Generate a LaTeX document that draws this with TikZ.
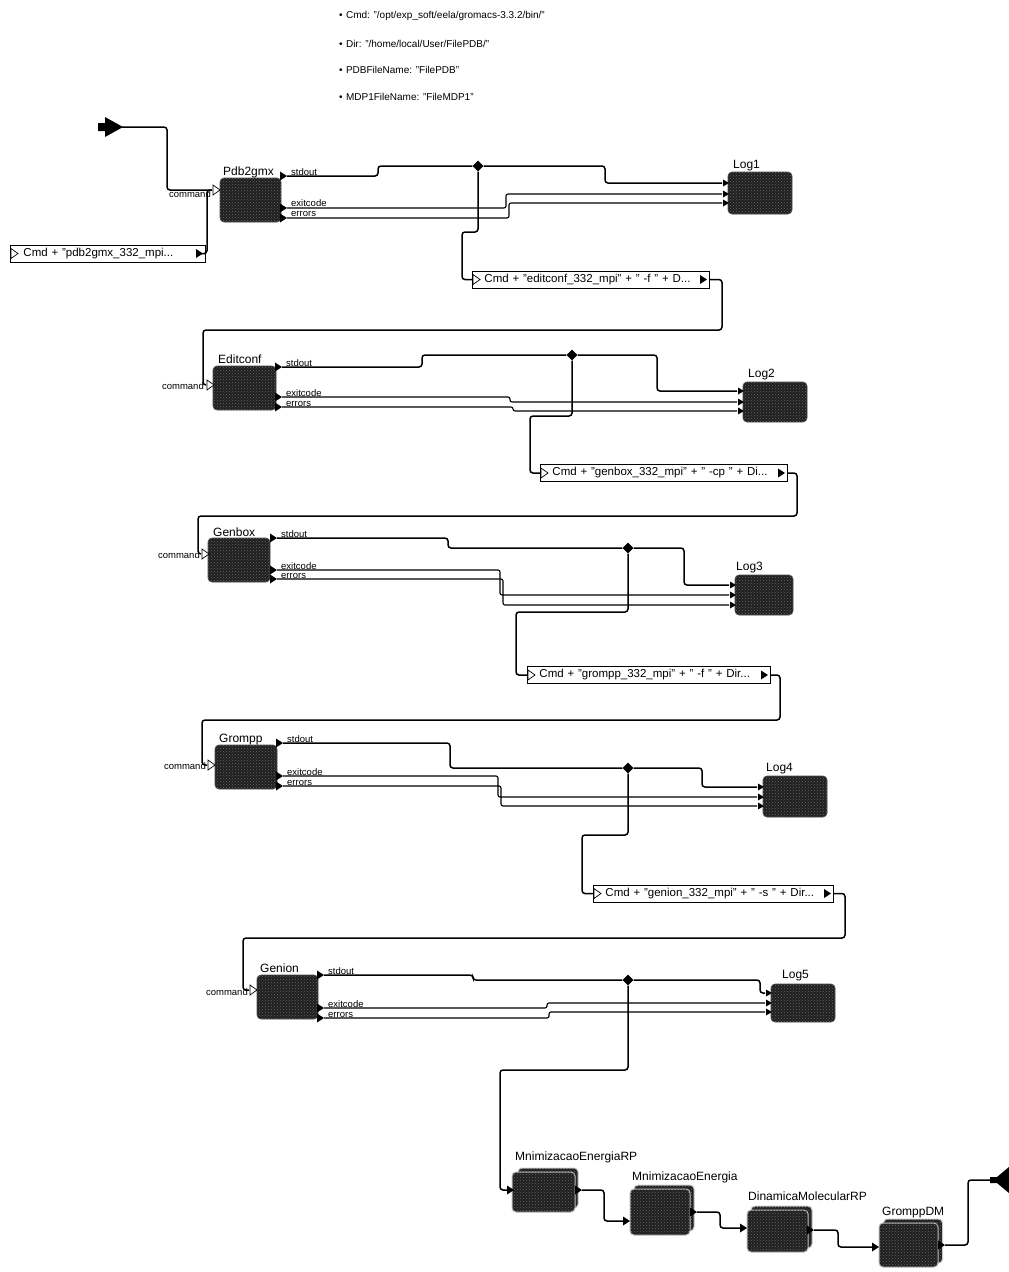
\documentclass[tikz,border=0pt]{standalone}
\usepackage{fontspec}
\setmainfont{Liberation Sans}
\usetikzlibrary{shapes.geometric,patterns}
\tikzset{
  wire/.style={line width=1.5pt, rounded corners=3pt},
  thinwire/.style={line width=1.1pt, rounded corners=2pt},
  proc/.style={draw=black!70, line width=0.6pt, fill=black!88, rounded corners=4pt, inner sep=0pt,
     postaction={pattern=crosshatch dots, pattern color=black!60}},
  backproc/.style={proc, draw=white!80!black, line width=1pt},
  frontproc/.style={proc, draw=white!75!black, line width=1pt},
  plabel/.style={font=\fontsize{12}{13}\selectfont, inner sep=0pt, anchor=base west},
  portlabel/.style={font=\fontsize{9.5}{10}\selectfont, inner sep=0pt},
  toplabel/.style={font=\fontsize{10}{11}\selectfont, inner sep=0pt, anchor=west},
  cmdbox/.style={draw, fill=white, line width=0.9pt, inner xsep=0pt, inner ysep=0pt, minimum height=17pt, align=left, anchor=west, font=\fontsize{11.5}{12}\selectfont},
  junction/.style={diamond, fill=black, inner sep=0pt, minimum size=11pt},
  outp/.pic={\fill[black] (-7,-4.5) -- (0,0) -- (-7,4.5) -- cycle;},
  inp/.pic={\filldraw[fill=white, draw=black, line width=0.7pt] (-7,-5) -- (0,0) -- (-7,5) -- cycle;},
  logp/.pic={\fill[black] (-6,-3.5) -- (0,0) -- (-6,3.5) -- cycle;},
}
\begin{document}
\begin{tikzpicture}[x=1pt,y=-1pt]
\useasboundingbox (0,0) rectangle (1009,1272);
\fill[white] (0,0) rectangle (1009,1272);

% parameters
\node[toplabel] (t1) at (339,16) {\textbullet\,\,Cmd: "/opt/exp\_soft/eela/gromacs-3.3.2/bin/"};
\node[toplabel] (t2) at (339,44) {\textbullet\,\,Dir: "/home/local/User/FilePDB/"};
\node[toplabel] (t3) at (339,70) {\textbullet\,\,PDBFileName: "FilePDB"};
\node[toplabel] (t4) at (339,97) {\textbullet\,\,MDP1FileName: "FileMDP1"};

% start arrow
\fill (98,123) -- (105,123) -- (105,117) -- (123,127) -- (105,137) -- (105,131) -- (98,131) -- cycle;
\coordinate (st) at (122,127);

% ===== Stage 1: Pdb2gmx
\node[proc, minimum width=61pt, minimum height=44pt] (pdb) at (250.5,200) {};
\node[plabel] (pdbl) at (223,175) {Pdb2gmx};
\coordinate (p1c) at (212,190); \pic at (220,190) {inp};
\node[portlabel, anchor=base east] (p1cl) at (211,197) {command};
\coordinate (p1so) at (287,176); \pic at (287,176) {outp};
\coordinate (p1ec) at (287,208); \pic at (287,208) {outp};
\coordinate (p1er) at (287,218); \pic at (287,218) {outp};
\node[portlabel, anchor=base west] (p1sol) at (291,175) {stdout};
\node[portlabel, anchor=base west] (p1ecl) at (291,206) {exitcode};
\node[portlabel, anchor=base west] (p1erl) at (291,216) {errors};
\node[proc, minimum width=64pt, minimum height=42pt] (log1) at (760,193) {};
\node[plabel] (log1l) at (733,168) {Log1};
\coordinate (l1a) at (722,183); \pic at (729,183) {logp};
\coordinate (l1b) at (722,194); \pic at (729,194) {logp};
\coordinate (l1c) at (722,203); \pic at (729,203) {logp};
\node[junction] (d1) at (478,166) {};
\node[cmdbox, text width=195pt] (c1) at (10,253.5) {\mbox{\hspace*{13pt}Cmd + "pdb2gmx\_332\_mpi...}};
\pic at (18,253.5) {inp}; \pic at (203,253.5) {outp};

\draw[wire] (st) -| (167,190) -- (p1c);
\draw[wire] (c1.east) -| ([xshift=-5pt]p1c) -- (p1c);
\draw[wire] (p1so) -| (378,166) -- (d1);
\draw[wire] (d1) -| (605,183) -- (l1a);
\draw[thinwire] (p1ec) -| (506,194) -- (l1b);
\draw[thinwire] (p1er) -| (509,203) -- (l1c);

\node[cmdbox, text width=237pt] (c2) at (472,279.5) {\mbox{\hspace*{12pt}Cmd + "editconf\_332\_mpi" + " -f " + D...}};
\pic at (480,279.5) {inp}; \pic at (707,279.5) {outp};
\draw[wire] (d1) |- (462,232) |- (c2.west);

% ===== Stage 2: Editconf
\node[proc, minimum width=63pt, minimum height=44pt] (edc) at (244.5,388) {};
\node[plabel] (edcl) at (218,363) {Editconf};
\coordinate (p2c) at (206,385); \pic at (214,385) {inp};
\node[portlabel, anchor=base east] (p2cl) at (204,389) {command};
\coordinate (p2so) at (282,367); \pic at (282,367) {outp};
\coordinate (p2ec) at (282,397); \pic at (282,397) {outp};
\coordinate (p2er) at (282,407); \pic at (282,407) {outp};
\node[portlabel, anchor=base west] (p2sol) at (286,366) {stdout};
\node[portlabel, anchor=base west] (p2ecl) at (286,396) {exitcode};
\node[portlabel, anchor=base west] (p2erl) at (286,406) {errors};
\node[proc, minimum width=64pt, minimum height=40pt] (log2) at (775,402) {};
\node[plabel] (log2l) at (748,377) {Log2};
\coordinate (l2a) at (737,391); \pic at (744,391) {logp};
\coordinate (l2b) at (737,402); \pic at (744,402) {logp};
\coordinate (l2c) at (737,411); \pic at (744,411) {logp};
\node[junction] (d2) at (572,355) {};
\draw[wire] (c2.east) -| (722,330) -| (203,385) -- (p2c);
\draw[wire] (p2so) -| (422,355) -- (d2);
\draw[wire] (d2) -| (657,391) -- (l2a);
\draw[thinwire] (p2ec) -| (510,402) -- (l2b);
\draw[thinwire] (p2er) -| (513,411) -- (l2c);

\node[cmdbox, text width=247pt] (c3) at (540,473) {\mbox{\hspace*{12pt}Cmd + "genbox\_332\_mpi" + " -cp " + Di...}};
\pic at (548,473) {inp}; \pic at (785,473) {outp};
\draw[wire] (d2) |- (530,416) |- (c3.west);

% ===== Stage 3: Genbox
\node[proc, minimum width=62pt, minimum height=44pt] (gbx) at (239,560) {};
\node[plabel] (gbxl) at (213,536) {Genbox};
\coordinate (p3c) at (201,554); \pic at (209,554) {inp};
\node[portlabel, anchor=base east] (p3cl) at (200,558) {command};
\coordinate (p3so) at (277,538); \pic at (277,538) {outp};
\coordinate (p3ec) at (277,570); \pic at (277,570) {outp};
\coordinate (p3er) at (277,579); \pic at (277,579) {outp};
\node[portlabel, anchor=base west] (p3sol) at (281,537) {stdout};
\node[portlabel, anchor=base west] (p3ecl) at (281,569) {exitcode};
\node[portlabel, anchor=base west] (p3erl) at (281,578) {errors};
\node[proc, minimum width=58pt, minimum height=40pt] (log3) at (764,595) {};
\node[plabel] (log3l) at (736,570) {Log3};
\coordinate (l3a) at (729,585); \pic at (736,585) {logp};
\coordinate (l3b) at (729,595); \pic at (736,595) {logp};
\coordinate (l3c) at (729,605); \pic at (736,605) {logp};
\node[junction] (d3) at (628,548) {};
\draw[wire] (c3.east) -| (797,516) -| (198,554) -- (p3c);
\draw[wire] (p3so) -| (448,548) -- (d3);
\draw[wire] (d3) -| (684,585) -- (l3a);
\draw[thinwire] (p3ec) -| (500,595) -- (l3b);
\draw[thinwire] (p3er) -| (503,605) -- (l3c);

\node[cmdbox, text width=243pt] (c4) at (527,675) {\mbox{\hspace*{12pt}Cmd + "grompp\_332\_mpi" + " -f " + Dir...}};
\pic at (535,675) {inp}; \pic at (768,675) {outp};
\draw[wire] (d3) |- (516,612) |- (c4.west);

% ===== Stage 4: Grompp
\node[proc, minimum width=62pt, minimum height=44pt] (grp) at (246,767) {};
\node[plabel] (grpl) at (219,742) {Grompp};
\coordinate (p4c) at (207,765); \pic at (215,765) {inp};
\node[portlabel, anchor=base east] (p4cl) at (206,769) {command};
\coordinate (p4so) at (283,743); \pic at (283,743) {outp};
\coordinate (p4ec) at (283,776); \pic at (283,776) {outp};
\coordinate (p4er) at (283,786); \pic at (283,786) {outp};
\node[portlabel, anchor=base west] (p4sol) at (287,742) {stdout};
\node[portlabel, anchor=base west] (p4ecl) at (287,775) {exitcode};
\node[portlabel, anchor=base west] (p4erl) at (287,785) {errors};
\node[proc, minimum width=64pt, minimum height=41pt] (log4) at (795,796.5) {};
\node[plabel] (log4l) at (766,771) {Log4};
\coordinate (l4a) at (757,787); \pic at (764,787) {logp};
\coordinate (l4b) at (757,797); \pic at (764,797) {logp};
\coordinate (l4c) at (757,806); \pic at (764,806) {logp};
\node[junction] (d4) at (628,768) {};
\draw[wire] (c4.east) -| (780,720) -| (202,765) -- (p4c);
\draw[wire] (p4so) -| (450,768) -- (d4);
\draw[wire] (d4) -| (702,787) -- (l4a);
\draw[thinwire] (p4ec) -| (498,797) -- (l4b);
\draw[thinwire] (p4er) -| (501,806) -- (l4c);

\node[cmdbox, text width=240pt] (c5) at (593,893.5) {\mbox{\hspace*{12pt}Cmd + "genion\_332\_mpi" + " -s " + Dir...}};
\pic at (601,893.5) {inp}; \pic at (831,893.5) {outp};
\draw[wire] (d4) |- (582,835) |- (c5.west);

% ===== Stage 5: Genion
\node[proc, minimum width=61pt, minimum height=44pt] (gen) at (287.5,997) {};
\node[plabel] (genl) at (260,972) {Genion};
\coordinate (p5c) at (249,990); \pic at (257,990) {inp};
\node[portlabel, anchor=base east] (p5cl) at (248,995) {command};
\coordinate (p5so) at (324,975); \pic at (324,975) {outp};
\coordinate (p5ec) at (324,1008); \pic at (324,1008) {outp};
\coordinate (p5er) at (324,1018); \pic at (324,1018) {outp};
\node[portlabel, anchor=base west] (p5sol) at (328,974) {stdout};
\node[portlabel, anchor=base west] (p5ecl) at (328,1007) {exitcode};
\node[portlabel, anchor=base west] (p5erl) at (328,1017) {errors};
\node[proc, minimum width=64pt, minimum height=38pt] (log5) at (803,1003) {};
\node[plabel] (log5l) at (782,978) {Log5};
\coordinate (l5a) at (765,993); \pic at (772,993) {logp};
\coordinate (l5b) at (765,1003); \pic at (772,1003) {logp};
\coordinate (l5c) at (765,1012); \pic at (772,1012) {logp};
\node[junction] (d5) at (628,980) {};
\draw[wire] (c5.east) -| (845,938) -| (243,990) -- (p5c);
\draw[wire] (p5so) -| (473,980) -- (d5);
\draw[wire] (d5) -| (760,993) -- (l5a);
\draw[thinwire] (p5ec) -| (547,1003) -- (l5b);
\draw[thinwire] (p5er) -| (549,1012) -- (l5c);

% ===== Final chain
\node[backproc, minimum width=60pt, minimum height=40pt] (m1b) at (548,1188) {};
\node[frontproc, minimum width=63pt, minimum height=40pt] (m1) at (543.5,1192) {};
\node[plabel] (m1l) at (515,1160) {MnimizacaoEnergiaRP};
\coordinate (m1in) at (507,1190); \pic at (514,1190) {outp};
\coordinate (m1out) at (582,1190); \pic at (582,1190) {outp};
\draw[wire] (d5) |- (500,1070) |- (m1in);

\node[backproc, minimum width=60pt, minimum height=46pt] (m2b) at (664,1208) {};
\node[frontproc, minimum width=60pt, minimum height=46pt] (m2) at (660,1212) {};
\node[plabel] (m2l) at (632,1180) {MnimizacaoEnergia};
\coordinate (m2in) at (623,1221); \pic at (630,1221) {outp};
\coordinate (m2out) at (697,1212); \pic at (697,1212) {outp};
\draw[wire] (m1out) -| (604,1221) -- (m2in);

\node[backproc, minimum width=61pt, minimum height=42pt] (m3b) at (781.5,1227) {};
\node[frontproc, minimum width=61pt, minimum height=42pt] (m3) at (777.5,1231) {};
\node[plabel] (m3l) at (748,1200) {DinamicaMolecularRP};
\coordinate (m3in) at (740,1228); \pic at (747,1228) {outp};
\coordinate (m3out) at (814,1230); \pic at (814,1230) {outp};
\draw[wire] (m2out) -| (720,1228) -- (m3in);

\node[backproc, minimum width=59pt, minimum height=44pt] (m4b) at (913,1241) {};
\node[frontproc, minimum width=59pt, minimum height=44pt] (m4) at (908.5,1245) {};
\node[plabel] (m4l) at (882,1215) {GromppDM};
\coordinate (m4in) at (872,1247); \pic at (879,1247) {outp};
\coordinate (m4out) at (945,1245); \pic at (945,1245) {outp};
\draw[wire] (m3out) -| (838,1247) -- (m4in);

% end arrow
\coordinate (endc) at (990,1180);
\fill (990,1177) -- (997,1177) -- (1009,1167) -- (1009,1193) -- (997,1183) -- (990,1183) -- cycle;
\draw[wire] (m4out) -| (968,1180) -- (endc);
\end{tikzpicture}
\end{document}
